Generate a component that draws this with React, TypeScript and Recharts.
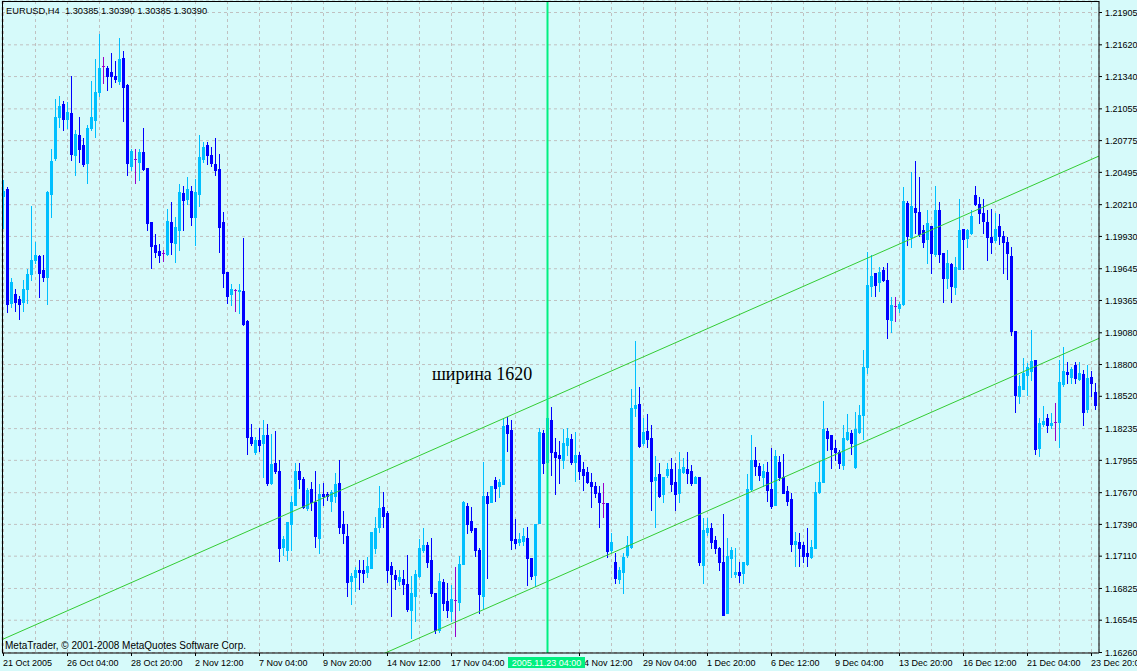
import React from "react"
import { Bar, CartesianGrid, ComposedChart, ReferenceLine, XAxis, YAxis } from "recharts"

// EURUSD H4 candles, 21 Oct 2005 .. 23 Dec 2005
const opens = [
  1.2028, 1.2034, 1.1934, 1.1942, 1.1937, 1.1935, 1.1946, 1.1959, 1.1972, 1.1975,
  1.1963, 1.1957, 1.2030, 1.2062, 1.2098, 1.2109, 1.2096, 1.2101, 1.2064, 1.2082,
  1.2073, 1.2057, 1.2088, 1.2095, 1.2120, 1.2143, 1.2141, 1.2138, 1.2134, 1.2130,
  1.2150, 1.2126, 1.2055, 1.2061, 1.2058, 1.2067, 1.2053, 1.2005, 1.1985, 1.1980,
  1.1978, 1.1977, 1.2005, 1.1987, 1.1998, 1.2031, 1.2026, 1.2033, 1.2010, 1.2030,
  1.2061, 1.2073, 1.2064, 1.2056, 1.2052, 1.2005, 1.1961, 1.1942, 1.1945, 1.1944,
  1.1944, 1.1918, 1.1816, 1.1802, 1.1813, 1.1810, 1.1817, 1.1775, 1.1793, 1.1786,
  1.1719, 1.1716, 1.1739, 1.1756, 1.1786, 1.1779, 1.1753, 1.1770, 1.1758, 1.1727,
  1.1765, 1.1765, 1.1759, 1.1764, 1.1775, 1.1739, 1.1728, 1.1689, 1.1692, 1.1698,
  1.1698, 1.1697, 1.1700, 1.1718, 1.1736, 1.1754, 1.1749, 1.1702, 1.1694, 1.1689,
  1.1690, 1.1686, 1.1663, 1.1675, 1.1693, 1.1716, 1.1720, 1.1707, 1.1678, 1.1645,
  1.1688, 1.1671, 1.1662, 1.1672, 1.1670, 1.1704, 1.1755, 1.1742, 1.1735, 1.1716,
  1.1675, 1.1764, 1.1758, 1.1778, 1.1772, 1.1774, 1.1826, 1.1822, 1.1726, 1.1723,
  1.1724, 1.1727, 1.1709, 1.1694, 1.1740, 1.1819, 1.1794, 1.1831, 1.1802, 1.1800,
  1.1795, 1.1809, 1.1814, 1.1794, 1.1800, 1.1787, 1.1785, 1.1776, 1.1772, 1.1766,
  1.1757, 1.1757, 1.1716, 1.1705, 1.1690, 1.1697, 1.1712, 1.1719, 1.1841, 1.1845,
  1.1810, 1.1821, 1.1815, 1.1778, 1.1783, 1.1765, 1.1782, 1.1787, 1.1776, 1.1766,
  1.1785, 1.1787, 1.1786, 1.1775, 1.1780, 1.1703, 1.1732, 1.1735, 1.1725, 1.1718,
  1.1705, 1.1660, 1.1709, 1.1695, 1.1697, 1.1696, 1.1704, 1.1770, 1.1795, 1.1790,
  1.1780, 1.1785, 1.1770, 1.1756, 1.1794, 1.1780, 1.1768, 1.1761, 1.1721, 1.1723,
  1.1720, 1.1713, 1.1710, 1.1718, 1.1767, 1.1776, 1.1821, 1.1817, 1.1806, 1.1802,
  1.1791, 1.1814, 1.1819, 1.1789, 1.1820, 1.1835, 1.1877, 1.1949, 1.1960, 1.1952,
  1.1963, 1.1954, 1.1919, 1.1931, 1.1929, 1.1933, 1.2022, 1.1992, 1.2018, 1.2014,
  1.1998, 1.1990, 1.2002, 1.1977, 1.2016, 1.1978, 1.1956, 1.1968, 1.1948, 1.1964,
  1.1999, 1.1991, 1.1996, 1.2029, 1.2021, 1.2013, 1.2005, 1.1992, 1.1989, 1.2002,
  1.1993, 1.1988, 1.1975, 1.1909, 1.1852, 1.1858, 1.1870, 1.1874, 1.1884, 1.1806,
  1.1827, 1.1832, 1.1826, 1.1829, 1.1829, 1.1862, 1.1873, 1.1869, 1.1879, 1.1867,
  1.1871, 1.1840, 1.1869, 1.1855,
]

const highs = [
  1.2042, 1.2036, 1.1956, 1.1946, 1.1940, 1.1954, 1.1964, 1.2019, 1.1988, 1.1976,
  1.1976, 1.2033, 1.2070, 1.2114, 1.2116, 1.2112, 1.2111, 1.2134, 1.2086, 1.2098,
  1.2079, 1.2091, 1.2130, 1.2149, 1.2171, 1.2151, 1.2143, 1.2154, 1.2147, 1.2168,
  1.2156, 1.2127, 1.2070, 1.2070, 1.2070, 1.2088, 1.2053, 1.2005, 1.1995, 1.1986,
  1.1981, 1.2017, 1.2023, 1.2010, 1.2039, 1.2037, 1.2045, 1.2037, 1.2043, 1.2082,
  1.2076, 1.2076, 1.2071, 1.2079, 1.2065, 1.2014, 1.1961, 1.1951, 1.1946, 1.1951,
  1.1991, 1.1919, 1.1827, 1.1816, 1.1824, 1.1831, 1.1827, 1.1818, 1.1821, 1.1795,
  1.1728, 1.1741, 1.1764, 1.1793, 1.1793, 1.1780, 1.1771, 1.1776, 1.1786, 1.1774,
  1.1775, 1.1767, 1.1769, 1.1784, 1.1795, 1.1750, 1.1739, 1.1696, 1.1701, 1.1707,
  1.1707, 1.1710, 1.1732, 1.1745, 1.1772, 1.1767, 1.1750, 1.1705, 1.1698, 1.1698,
  1.1698, 1.1712, 1.1693, 1.1698, 1.1726, 1.1735, 1.1723, 1.1727, 1.1678, 1.1696,
  1.1690, 1.1687, 1.1685, 1.1701, 1.1711, 1.1759, 1.1757, 1.1754, 1.1735, 1.1718,
  1.1794, 1.1767, 1.1772, 1.1780, 1.1779, 1.1832, 1.1833, 1.1831, 1.1743, 1.1731,
  1.1735, 1.1736, 1.1709, 1.1739, 1.1824, 1.1822, 1.1835, 1.1842, 1.1815, 1.1812,
  1.1823, 1.1824, 1.1818, 1.1820, 1.1802, 1.1794, 1.1789, 1.1784, 1.1776, 1.1772,
  1.1775, 1.1757, 1.1731, 1.1713, 1.1701, 1.1713, 1.1728, 1.1858, 1.1900, 1.1860,
  1.1832, 1.1836, 1.1826, 1.1799, 1.1793, 1.1780, 1.1793, 1.1797, 1.1793, 1.1802,
  1.1797, 1.1802, 1.1791, 1.1781, 1.1780, 1.1744, 1.1744, 1.1740, 1.1728, 1.1719,
  1.1748, 1.1727, 1.1719, 1.1718, 1.1705, 1.1705, 1.1783, 1.1817, 1.1807, 1.1793,
  1.1792, 1.1794, 1.1806, 1.1804, 1.1799, 1.1801, 1.1772, 1.1766, 1.1732, 1.1731,
  1.1723, 1.1735, 1.1725, 1.1776, 1.1794, 1.1847, 1.1824, 1.1817, 1.1813, 1.1804,
  1.1826, 1.1836, 1.1822, 1.1838, 1.1844, 1.1892, 1.1979, 1.1976, 1.1960, 1.1966,
  1.1966, 1.1969, 1.1939, 1.1939, 1.1935, 1.2036, 1.2024, 1.2049, 1.2059, 1.2045,
  1.2003, 1.2016, 1.2002, 1.2037, 1.2023, 1.1978, 1.1981, 1.1969, 1.1974, 1.2026,
  1.1999, 1.1999, 1.2016, 1.2037, 1.2027, 1.2026, 1.2016, 1.2017, 1.2013, 1.2012,
  1.1997, 1.1992, 1.1983, 1.1909, 1.1870, 1.1885, 1.1881, 1.1910, 1.1884, 1.1832,
  1.1843, 1.1836, 1.1837, 1.1846, 1.1884, 1.1895, 1.1882, 1.1877, 1.1882, 1.1882,
  1.1875, 1.1879, 1.1874, 1.1863,
]

const lows = [
  1.2000, 1.1926, 1.1930, 1.1927, 1.1920, 1.1927, 1.1934, 1.1954, 1.1969, 1.1939,
  1.1953, 1.1933, 1.2010, 1.2060, 1.2089, 1.2086, 1.2088, 1.2060, 1.2047, 1.2058,
  1.2055, 1.2040, 1.2086, 1.2080, 1.2116, 1.2128, 1.2122, 1.2124, 1.2129, 1.2127,
  1.2094, 1.2047, 1.2051, 1.2040, 1.2042, 1.2051, 1.1998, 1.1965, 1.1974, 1.1970,
  1.1971, 1.1976, 1.1977, 1.1970, 1.1981, 1.1998, 1.2021, 1.2003, 1.1985, 1.2019,
  1.2058, 1.2056, 1.2055, 1.2047, 1.1979, 1.1948, 1.1934, 1.1932, 1.1927, 1.1925,
  1.1914, 1.1801, 1.1809, 1.1801, 1.1803, 1.1780, 1.1773, 1.1774, 1.1784, 1.1706,
  1.1712, 1.1707, 1.1716, 1.1756, 1.1771, 1.1753, 1.1751, 1.1751, 1.1719, 1.1713,
  1.1756, 1.1760, 1.1750, 1.1758, 1.1731, 1.1722, 1.1675, 1.1668, 1.1680, 1.1682,
  1.1688, 1.1692, 1.1700, 1.1713, 1.1732, 1.1736, 1.1688, 1.1658, 1.1682, 1.1685,
  1.1677, 1.1662, 1.1638, 1.1653, 1.1692, 1.1714, 1.1701, 1.1675, 1.1643, 1.1644,
  1.1663, 1.1657, 1.1653, 1.1640, 1.1663, 1.1704, 1.1731, 1.1732, 1.1711, 1.1660,
  1.1665, 1.1691, 1.1758, 1.1759, 1.1763, 1.1774, 1.1803, 1.1717, 1.1718, 1.1720,
  1.1720, 1.1685, 1.1690, 1.1684, 1.1740, 1.1784, 1.1791, 1.1782, 1.1765, 1.1775,
  1.1788, 1.1800, 1.1792, 1.1777, 1.1779, 1.1769, 1.1775, 1.1754, 1.1763, 1.1736,
  1.1745, 1.1710, 1.1714, 1.1687, 1.1687, 1.1678, 1.1710, 1.1718, 1.1834, 1.1807,
  1.1809, 1.1807, 1.1751, 1.1736, 1.1763, 1.1758, 1.1780, 1.1768, 1.1751, 1.1758,
  1.1784, 1.1775, 1.1773, 1.1775, 1.1703, 1.1687, 1.1729, 1.1718, 1.1713, 1.1698,
  1.1659, 1.1660, 1.1692, 1.1692, 1.1688, 1.1687, 1.1703, 1.1769, 1.1782, 1.1778,
  1.1772, 1.1759, 1.1753, 1.1756, 1.1778, 1.1766, 1.1756, 1.1715, 1.1702, 1.1702,
  1.1705, 1.1702, 1.1709, 1.1718, 1.1766, 1.1776, 1.1804, 1.1788, 1.1795, 1.1788,
  1.1787, 1.1813, 1.1801, 1.1788, 1.1819, 1.1814, 1.1872, 1.1940, 1.1940, 1.1944,
  1.1953, 1.1903, 1.1908, 1.1918, 1.1926, 1.1932, 1.1985, 1.1983, 1.1996, 1.1993,
  1.1983, 1.1969, 1.1960, 1.1975, 1.1970, 1.1935, 1.1947, 1.1935, 1.1942, 1.1964,
  1.1964, 1.1983, 1.1995, 1.2020, 1.2004, 1.1996, 1.1972, 1.1978, 1.1988, 1.1986,
  1.1960, 1.1955, 1.1906, 1.1838, 1.1846, 1.1858, 1.1853, 1.1866, 1.1801, 1.1799,
  1.1825, 1.1820, 1.1824, 1.1813, 1.1807, 1.1861, 1.1863, 1.1863, 1.1863, 1.1866,
  1.1826, 1.1838, 1.1852, 1.1840,
]

const closes = [
  1.2033, 1.1933, 1.1952, 1.1935, 1.1933, 1.1946, 1.1959, 1.1972, 1.1976, 1.1960,
  1.1957, 1.2032, 1.2059, 1.2098, 1.2108, 1.2096, 1.2102, 1.2065, 1.2083, 1.2070,
  1.2056, 1.2088, 1.2098, 1.2120, 1.2141, 1.2143, 1.2134, 1.2134, 1.2131, 1.2149,
  1.2124, 1.2057, 1.2068, 1.2061, 1.2067, 1.2052, 1.2004, 1.1984, 1.1979, 1.1976,
  1.1978, 1.2006, 1.1988, 1.2001, 1.2032, 1.2025, 1.2034, 1.2010, 1.2032, 1.2063,
  1.2071, 1.2064, 1.2057, 1.2051, 1.2001, 1.1960, 1.1940, 1.1946, 1.1945, 1.1945,
  1.1915, 1.1816, 1.1810, 1.1813, 1.1809, 1.1817, 1.1775, 1.1792, 1.1786, 1.1718,
  1.1726, 1.1741, 1.1758, 1.1786, 1.1779, 1.1754, 1.1769, 1.1758, 1.1728, 1.1765,
  1.1764, 1.1764, 1.1767, 1.1774, 1.1736, 1.1731, 1.1688, 1.1693, 1.1698, 1.1697,
  1.1696, 1.1702, 1.1732, 1.1735, 1.1753, 1.1746, 1.1698, 1.1695, 1.1690, 1.1692,
  1.1686, 1.1664, 1.1678, 1.1695, 1.1718, 1.1720, 1.1705, 1.1678, 1.1645, 1.1689,
  1.1669, 1.1663, 1.1673, 1.1672, 1.1704, 1.1758, 1.1739, 1.1734, 1.1716, 1.1677,
  1.1764, 1.1757, 1.1772, 1.1771, 1.1776, 1.1825, 1.1819, 1.1725, 1.1722, 1.1726,
  1.1728, 1.1709, 1.1693, 1.1739, 1.1820, 1.1793, 1.1832, 1.1802, 1.1798, 1.1797,
  1.1810, 1.1815, 1.1794, 1.1800, 1.1786, 1.1782, 1.1776, 1.1772, 1.1766, 1.1758,
  1.1757, 1.1715, 1.1723, 1.1691, 1.1698, 1.1710, 1.1720, 1.1841, 1.1844, 1.1808,
  1.1820, 1.1814, 1.1777, 1.1780, 1.1764, 1.1780, 1.1787, 1.1774, 1.1765, 1.1787,
  1.1789, 1.1784, 1.1775, 1.1780, 1.1705, 1.1734, 1.1735, 1.1723, 1.1718, 1.1705,
  1.1659, 1.1711, 1.1716, 1.1697, 1.1694, 1.1705, 1.1770, 1.1795, 1.1790, 1.1782,
  1.1786, 1.1769, 1.1755, 1.1799, 1.1780, 1.1766, 1.1759, 1.1721, 1.1724, 1.1718,
  1.1711, 1.1711, 1.1719, 1.1767, 1.1776, 1.1823, 1.1815, 1.1805, 1.1802, 1.1793,
  1.1815, 1.1820, 1.1810, 1.1823, 1.1835, 1.1877, 1.1950, 1.1958, 1.1950, 1.1961,
  1.1954, 1.1920, 1.1932, 1.1931, 1.1933, 1.2024, 1.1993, 1.2019, 1.2014, 1.1995,
  1.1988, 1.2004, 1.1978, 1.2016, 1.1977, 1.1956, 1.1969, 1.1949, 1.1966, 1.1998,
  1.1990, 1.1998, 1.2011, 1.2021, 1.2013, 1.2006, 1.1992, 1.1988, 1.1999, 1.1993,
  1.1988, 1.1978, 1.1909, 1.1853, 1.1861, 1.1872, 1.1877, 1.1883, 1.1805, 1.1828,
  1.1830, 1.1826, 1.1828, 1.1829, 1.1864, 1.1874, 1.1871, 1.1876, 1.1868, 1.1872,
  1.1838, 1.1868, 1.1863, 1.1844,
]

const priceTicks = [
  1.21905, 1.2162, 1.2134, 1.21055, 1.20775, 1.20495, 1.2021, 1.1993, 1.19645, 1.19365,
  1.1908, 1.188, 1.1852, 1.18235, 1.17955, 1.1767, 1.1739, 1.1711, 1.16825, 1.16545, 1.1626,
]

// time labels that are visible (the one under the cursor box is hidden)
const labelBars = [0, 16, 32, 48, 64, 80, 96, 112, 144, 160, 176, 192, 208, 224, 240, 256, 272]
const labelTexts = [
  "21 Oct 2005", "26 Oct 04:00", "28 Oct 20:00", "2 Nov 12:00", "7 Nov 04:00", "9 Nov 20:00",
  "14 Nov 12:00", "17 Nov 04:00", "24 Nov 12:00", "29 Nov 04:00", "1 Dec 20:00",
  "6 Dec 12:00", "9 Dec 04:00", "13 Dec 20:00", "16 Dec 12:00", "21 Dec 04:00", "23 Dec 20:00",
]

// vertical cursor line
const cursorBar = 136
const cursorText = "2005.11.23 04:00"

// channel lines, prices at the left and right edge of the window
const channelBars = [-0.375, 273.875]
const upperChannel = [1.16374, 1.20639]
const lowerChannel = [1.14766, 1.19031]

const BG = "#d6fafa"
const BULL = "#00bfff"
const BEAR = "#0000ff"
const DOJI = "#9900cc"
const FONT = "'Liberation Sans', Arial, sans-serif"

const data = opens.map((o, i) => ({
  i,
  open: o,
  high: highs[i],
  low: lows[i],
  close: closes[i],
}))

// grid every 8 bars, cursor tick last so its box sits on top of the labels
const gridBars: number[] = []
for (let b = 0; b <= 272; b += 8) if (b !== cursorBar) gridBars.push(b)
gridBars.push(cursorBar)

function Candle(props: any) {
  const { x, y, width, height, payload } = props
  if (x == null || y == null || !payload) return null
  const top = Math.min(y, y + height)
  const h = Math.abs(height)
  const cx = Math.floor(x + width / 2) + 0.5
  const span = payload.high - payload.low
  const py = (p: number) => top + ((payload.high - p) / span) * h
  const doji = payload.close === payload.open
  const color = doji ? DOJI : payload.close > payload.open ? BULL : BEAR
  const wTop = Math.floor(py(payload.high))
  const wBot = Math.floor(py(payload.low)) + 1
  const bTop = Math.floor(py(Math.max(payload.open, payload.close)))
  const bBot = Math.floor(py(Math.min(payload.open, payload.close))) + 1
  return (
    <g shapeRendering="crispEdges">
      <rect x={cx - 0.5} y={wTop} width={1} height={Math.max(1, wBot - wTop)} fill={color} />
      <rect x={cx - 1.5} y={bTop} width={3} height={Math.max(1, bBot - bTop)} fill={color} />
    </g>
  )
}

function TimeTick(props: any) {
  const { x, y, payload } = props
  const v = payload.value
  const px = Math.floor(x) + 0.5
  if (v === cursorBar) {
    return (
      <g>
        <rect x={px - 39.5} y={y + 1} width={77} height={11} fill="#00f080" shapeRendering="crispEdges" />
        <text x={px - 1} y={y + 10} textAnchor="middle" fill="#fff" fontSize={9} fontFamily={FONT}>
          {cursorText}
        </text>
      </g>
    )
  }
  const k = labelBars.indexOf(v)
  if (k < 0) return null
  return (
    <g>
      <line x1={px} x2={px} y1={y - 3} y2={y} stroke="#000" shapeRendering="crispEdges" />
      <text x={px - 0.5} y={y + 10} textAnchor="start" fill="#000" fontSize={9} fontFamily={FONT}>
        {labelTexts[k]}
      </text>
    </g>
  )
}

export default function App() {
  return (
    <div style={{ position: "absolute", left: 0, top: 0, width: 1137, height: 671, background: BG, overflow: "hidden" }}>
      <ComposedChart width={1137} height={671} data={data} margin={{ top: 1, right: 0, bottom: 0, left: 2 }}>
        <CartesianGrid stroke="#c0c0c0" strokeDasharray="3 3" />
        <XAxis
          dataKey="i"
          type="number"
          domain={[-0.375, 273.875]}
          allowDataOverflow
          ticks={gridBars}
          interval={0}
          height={18}
          tickSize={3}
          tickMargin={0}
          tickLine={false}
          axisLine={{ stroke: "#000" }}
          tick={<TimeTick />}
        />
        <YAxis
          orientation="right"
          type="number"
          domain={[1.1625579, 1.2200643]}
          allowDataOverflow
          ticks={priceTicks}
          interval={0}
          width={38}
          tickSize={3}
          tickMargin={3}
          tickLine={{ stroke: "#000" }}
          axisLine={{ stroke: "#000" }}
          tick={{ fill: "#000", fontSize: 9, fontFamily: FONT }}
          tickFormatter={(v: number) => v.toFixed(5)}
        />
        <Bar
          dataKey={(d: any) => [d.low, d.high]}
          barSize={3}
          shape={<Candle />}
          isAnimationActive={false}
        />
        <ReferenceLine
          segment={[
            { x: channelBars[0], y: upperChannel[0] },
            { x: channelBars[1], y: upperChannel[1] },
          ]}
          stroke="#33cc33"
          ifOverflow="hidden"
        />
        <ReferenceLine
          segment={[
            { x: channelBars[0], y: lowerChannel[0] },
            { x: channelBars[1], y: lowerChannel[1] },
          ]}
          stroke="#33cc33"
          ifOverflow="hidden"
        />
        <ReferenceLine x={cursorBar} stroke="#00f080" strokeWidth={2} />
      </ComposedChart>
      <svg width={1137} height={671} style={{ position: "absolute", left: 0, top: 0, pointerEvents: "none" }}>
        <rect x={2} y={1} width={1} height={652} fill="#000" />
        <rect x={2} y={1} width={1097} height={1} fill="#000" />
        <text x={6} y={14} fontSize={9.3} fontFamily={FONT} fill="#000" style={{ whiteSpace: "pre" }}>
          {"EURUSD,H4  1.30385 1.30390 1.30385 1.30390"}
        </text>
        <text x={5} y={648.5} fontSize={10} fontFamily={FONT} fill="#000">
          MetaTrader, © 2001-2008 MetaQuotes Software Corp.
        </text>
        <text x={432} y={380} fontSize={18} fontFamily="'Liberation Serif', 'Times New Roman', serif" fill="#000">
          ширина 1620
        </text>
      </svg>
    </div>
  )
}
